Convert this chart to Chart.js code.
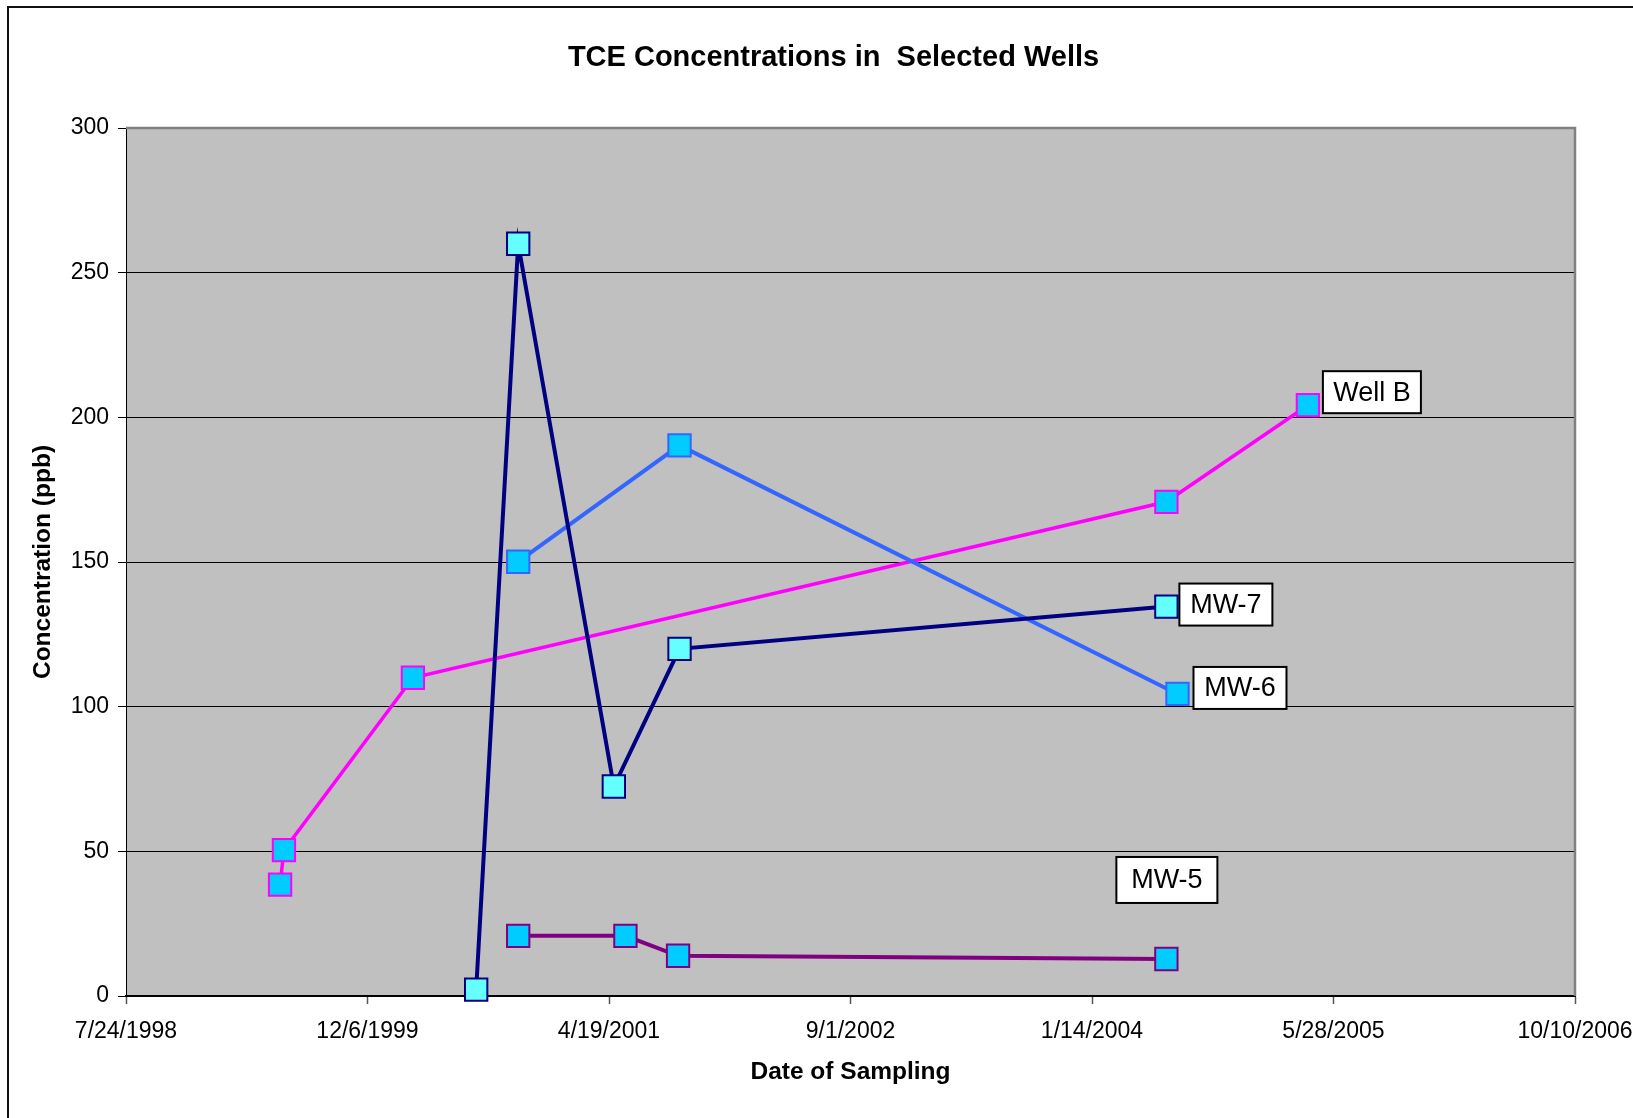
<!DOCTYPE html>
<html>
<head>
<meta charset="utf-8">
<title>TCE Concentrations in Selected Wells</title>
<script src="https://cdn.jsdelivr.net/npm/chart.js@4/dist/chart.umd.min.js"></script>
<style>
  html, body { margin: 0; padding: 0; background: #ffffff; overflow: hidden; }
  #wrap { position: relative; width: 1633px; height: 1118px; }
  #frame {
    position: absolute; left: 7px; top: 6px; width: 2000px; height: 2000px;
    border: 2px solid #111; box-sizing: border-box;
  }
  #chart { position: absolute; left: 0; top: 0; }
</style>
</head>
<body>
<div id="wrap">
  <div id="frame"></div>
  <canvas id="chart" width="1633" height="1118"></canvas>
</div>
<script>
// Sampling dates are Excel day serials (36000 = 7/24/1998); concentrations in ppb.
const wellB_dates = [36319, 36327, 36594, 38154, 38447];
const wellB_tce   = [38.5, 50.4, 110, 170.8, 204.2];

const mw7_dates = [36725, 36812, 37010, 37146, 38154];
const mw7_tce   = [2.2, 260, 72.4, 120, 134.6];

const mw6_dates = [36812, 37146, 38177];
const mw6_tce   = [150.1, 190.3, 104.4];

const mw5_dates = [36812, 37034, 37143, 38154];
const mw5_tce   = [20.8, 20.8, 13.9, 12.8];

const seriesNames = ['Well B', 'MW-7', 'MW-6', 'MW-5'];
const chartTitle = 'TCE Concentrations in  Selected Wells';

const xTickMin = 36000, xTickMax = 39000, xTickStep = 500;
const yTickMin = 0, yTickMax = 300, yTickStep = 50;

const FONT = '"Liberation Sans", Arial, Helvetica, sans-serif';

function pts(xs, ys) { return xs.map((x, i) => ({ x: x, y: ys[i] })); }

// Excel serial -> m/d/yyyy
function serialToLabel(serial) {
  const d = new Date(Date.UTC(1899, 11, 30) + serial * 86400000);
  return (d.getUTCMonth() + 1) + '/' + d.getUTCDate() + '/' + d.getUTCFullYear();
}

function series(name, xs, ys, line, fill, width, order) {
  return {
    label: name,
    data: pts(xs, ys),
    borderColor: line,
    borderWidth: width,
    backgroundColor: fill,
    pointStyle: 'rect',
    pointRadius: 15.8,
    pointHoverRadius: 15.8,
    pointBackgroundColor: fill,
    pointBorderColor: line,
    pointBorderWidth: 2,
    tension: 0,
    clip: false,
    order: order
  };
}

// Boxed name tags next to the last point of each well (offsets in px from that point).
const tagStyle = {
  'Well B': { dx: 15,  dy: -34,  w: 98,  h: 42 },
  'MW-7':   { dx: 13,  dy: -23,  w: 93,  h: 42 },
  'MW-6':   { dx: 16,  dy: -27,  w: 93,  h: 42 },
  'MW-5':   { dx: -50, dy: -102, w: 101, h: 46 }
};

const plotBackground = {
  id: 'plotBackground',
  beforeDraw(chart) {
    const { ctx, chartArea: a } = chart;
    ctx.save();
    ctx.fillStyle = '#C0C0C0';
    ctx.fillRect(a.left, a.top, a.right - a.left, a.bottom - a.top);
    // chart title, set slightly left of the plot centre
    ctx.fillStyle = '#000000';
    ctx.font = 'bold 29px ' + FONT;
    ctx.textAlign = 'center';
    ctx.textBaseline = 'middle';
    ctx.fillText(chartTitle, (a.left + a.right) / 2 - 17, 58);
    ctx.restore();
  },
  beforeDatasetsDraw(chart) {
    const { ctx, chartArea: a } = chart;
    ctx.save();
    ctx.strokeStyle = '#808080';
    ctx.lineWidth = 2.5;
    ctx.beginPath();
    ctx.moveTo(a.left, a.top);
    ctx.lineTo(a.right, a.top);
    ctx.lineTo(a.right, a.bottom);
    ctx.stroke();
    ctx.restore();
  }
};

const nameTags = {
  id: 'nameTags',
  afterDatasetsDraw(chart) {
    const { ctx } = chart;
    ctx.save();
    chart.data.datasets.forEach((ds, i) => {
      const st = tagStyle[ds.label];
      if (!st) return;
      const meta = chart.getDatasetMeta(i);
      const last = meta.data[meta.data.length - 1];
      const bx = last.x + st.dx, by = last.y + st.dy;
      ctx.fillStyle = '#ffffff';
      ctx.fillRect(bx, by, st.w, st.h);
      ctx.strokeStyle = '#000000';
      ctx.lineWidth = 2;
      ctx.strokeRect(bx, by, st.w, st.h);
      ctx.fillStyle = '#000000';
      ctx.font = '27px ' + FONT;
      ctx.textAlign = 'center';
      ctx.textBaseline = 'middle';
      ctx.fillText(ds.label, bx + st.w / 2, by + st.h / 2 + 1);
    });
    ctx.restore();
  }
};

new Chart(document.getElementById('chart'), {
  type: 'line',
  data: {
    datasets: [
      series(seriesNames[0], wellB_dates, wellB_tce, '#FF00FF', '#00CCFF', 3.5, 3),
      series(seriesNames[1], mw7_dates, mw7_tce, '#000080', '#66FFFF', 4, 0),
      series(seriesNames[2], mw6_dates, mw6_tce, '#3366FF', '#00CCFF', 4, 2),
      series(seriesNames[3], mw5_dates, mw5_tce, '#800080', '#00CCFF', 4, 1)
    ]
  },
  options: {
    responsive: false,
    animation: false,
    layout: { padding: { left: 0, right: 58, top: 128, bottom: 0 } },
    plugins: {
      legend: { display: false },
      tooltip: { enabled: false },
      title: { display: false }
    },
    scales: {
      x: {
        type: 'linear',
        min: xTickMin,
        max: xTickMax,
        afterFit(scale) {
          scale.height = 122;
          scale.paddingLeft = 0;
          scale.paddingRight = 0;
        },
        afterBuildTicks(scale) {
          const t = [];
          for (let v = xTickMin; v <= xTickMax; v += xTickStep) t.push({ value: v });
          scale.ticks = t;
        },
        ticks: {
          autoSkip: false,
          maxRotation: 0,
          color: '#000000',
          padding: 14,
          font: { family: FONT, size: 23 },
          callback: (v) => serialToLabel(v)
        },
        grid: {
          drawOnChartArea: false,
          drawTicks: true,
          tickLength: 8,
          tickColor: '#555555',
          tickWidth: 1.5
        },
        border: { display: true, color: '#000000', width: 2 },
        title: {
          display: true,
          text: 'Date of Sampling',
          color: '#000000',
          font: { family: FONT, size: 24.5, weight: 'bold' },
          padding: { top: 0, bottom: 31 }
        }
      },
      y: {
        type: 'linear',
        min: yTickMin,
        max: yTickMax,
        afterFit(scale) {
          scale.width = 126;
          scale.paddingTop = 0;
          scale.paddingBottom = 0;
        },
        ticks: {
          stepSize: yTickStep,
          color: '#000000',
          padding: 9,
          font: { family: FONT, size: 23 }
        },
        grid: {
          drawTicks: true,
          tickLength: 8,
          tickColor: '#000000',
          color: (c) => (c.tick && c.tick.value === yTickMax) ? 'rgba(0,0,0,0)' : '#000000',
          lineWidth: 1
        },
        border: { display: true, color: '#000000', width: 1 },
        title: {
          display: true,
          text: 'Concentration (ppb)',
          color: '#000000',
          font: { family: FONT, size: 24.5, weight: 'bold' },
          padding: { top: 29, bottom: 0 }
        }
      }
    }
  },
  plugins: [plotBackground, nameTags]
});
</script>
</body>
</html>
